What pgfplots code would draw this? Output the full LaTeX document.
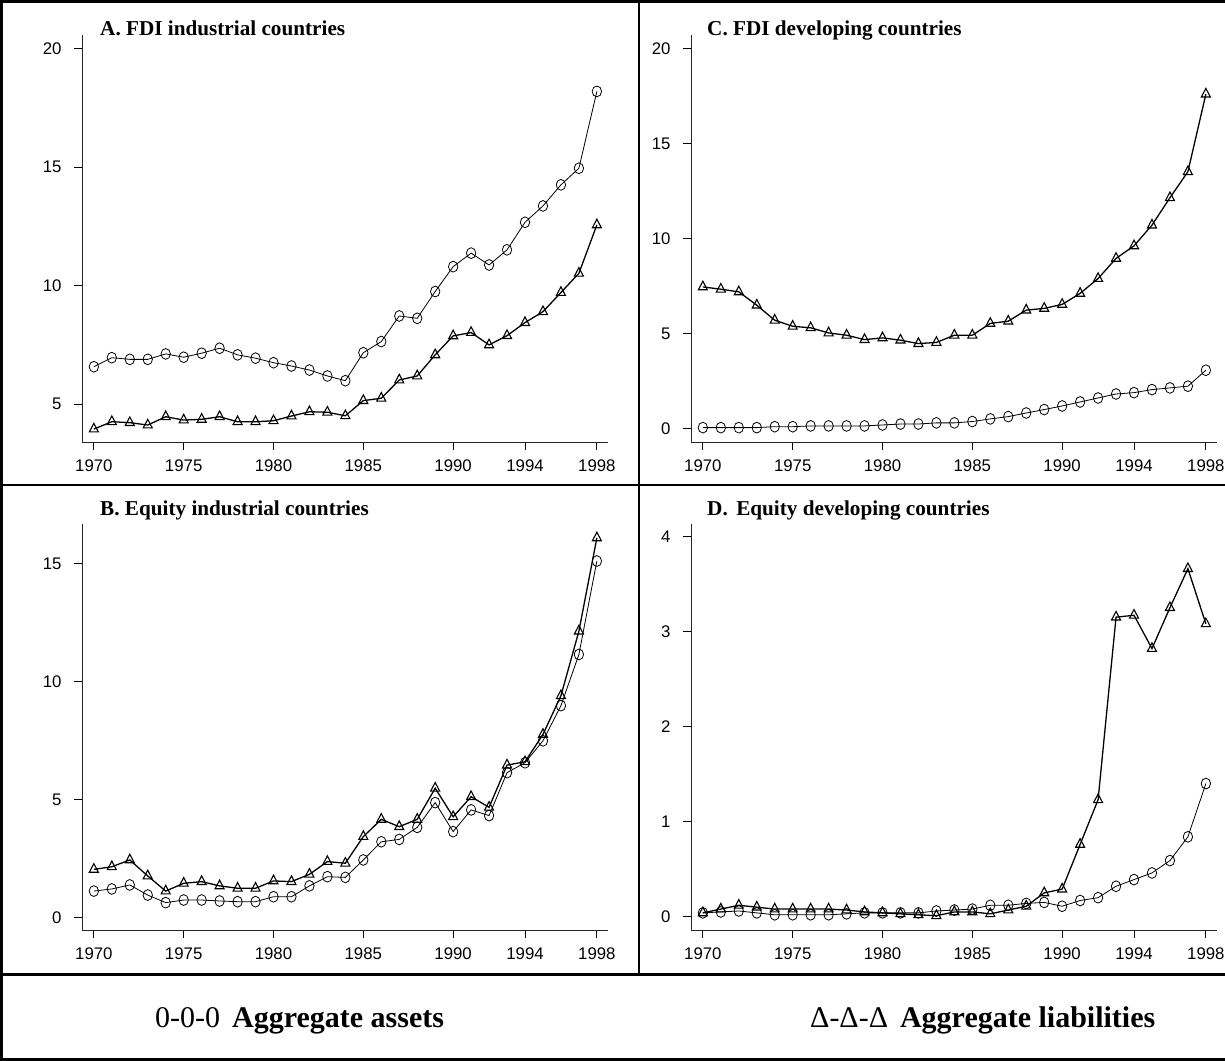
\documentclass[border=0pt]{standalone}
\usepackage{fontspec}
\setmainfont{Liberation Serif}
\newfontfamily\arial{Liberation Sans}
\usepackage{pgfplots}
\pgfplotsset{compat=1.18}
\usepackage{pgfplotstable}

% year, aggregate assets (a), aggregate liabilities (l)
\pgfplotstableread{
year a l
1970 6.58 3.95
1971 6.96 4.26
1972 6.89 4.22
1973 6.89 4.12
1974 7.12 4.47
1975 6.98 4.33
1976 7.15 4.36
1977 7.36 4.47
1978 7.08 4.26
1979 6.94 4.26
1980 6.75 4.30
1981 6.61 4.50
1982 6.44 4.68
1983 6.19 4.66
1984 5.99 4.51
1985 7.17 5.15
1986 7.64 5.25
1987 8.72 6.02
1988 8.62 6.19
1989 9.75 7.08
1990 10.80 7.88
1991 11.37 8.02
1992 10.87 7.50
1993 11.51 7.89
1994 12.67 8.44
1995 13.36 8.90
1996 14.25 9.71
1997 14.95 10.52
1998 18.19 12.56
}\fdiind

\pgfplotstableread{
year a l
1970 0.05 7.45
1971 0.05 7.33
1972 0.05 7.19
1973 0.05 6.49
1974 0.10 5.70
1975 0.10 5.38
1976 0.14 5.30
1977 0.14 5.03
1978 0.14 4.91
1979 0.14 4.68
1980 0.19 4.77
1981 0.24 4.65
1982 0.24 4.47
1983 0.30 4.53
1984 0.30 4.91
1985 0.37 4.91
1986 0.51 5.53
1987 0.63 5.65
1988 0.82 6.23
1989 1.00 6.32
1990 1.19 6.53
1991 1.40 7.11
1992 1.61 7.89
1993 1.82 8.95
1994 1.89 9.61
1995 2.05 10.70
1996 2.14 12.14
1997 2.23 13.51
1998 3.07 17.59
}\fdidev

\pgfplotstableread{
year a l
1970 1.11 2.03
1971 1.20 2.14
1972 1.37 2.43
1973 0.94 1.75
1974 0.62 1.11
1975 0.73 1.44
1976 0.73 1.51
1977 0.69 1.33
1978 0.66 1.23
1979 0.66 1.23
1980 0.87 1.54
1981 0.87 1.51
1982 1.33 1.82
1983 1.72 2.36
1984 1.69 2.29
1985 2.43 3.42
1986 3.20 4.15
1987 3.30 3.84
1988 3.81 4.15
1989 4.86 5.47
1990 3.63 4.26
1991 4.55 5.11
1992 4.31 4.66
1993 6.13 6.45
1994 6.55 6.59
1995 7.48 7.75
1996 8.97 9.39
1997 11.14 12.13
1998 15.10 16.08
}\eqind

\pgfplotstableread{
year a l
1970 0.04 0.04
1971 0.05 0.08
1972 0.06 0.12
1973 0.04 0.10
1974 0.02 0.08
1975 0.02 0.08
1976 0.02 0.08
1977 0.02 0.08
1978 0.03 0.07
1979 0.04 0.05
1980 0.04 0.04
1981 0.04 0.03
1982 0.04 0.02
1983 0.06 0.01
1984 0.07 0.05
1985 0.08 0.05
1986 0.12 0.03
1987 0.12 0.07
1988 0.14 0.11
1989 0.15 0.25
1990 0.11 0.29
1991 0.17 0.76
1992 0.20 1.23
1993 0.32 3.15
1994 0.39 3.17
1995 0.46 2.82
1996 0.59 3.25
1997 0.84 3.66
1998 1.40 3.08
}\eqdev

\pgfplotsset{
  panel/.style={
    scale only axis, width=526bp, anchor=south west,
    xmin=1969.34, xmax=1998.62,
    axis x line*=bottom, axis y line*=left,
    axis line style={line width=0.8bp, black!85},
    xtick={1970,1975,1980,1985,1990,1994,1998},
    xticklabels={1970,1975,1980,1985,1990,1994,1998},
    tick align=outside, major tick length=8bp,
    tick style={line width=0.8bp, black},
    tick label style={font=\arial\fontsize{16.8bp}{17bp}\selectfont},
    yticklabel style={xshift=-9bp},
    xticklabel style={yshift=-6bp},
    /pgf/number format/assume math mode=true,
    clip=false,
  },
  assets/.style={black, line width=0.8bp, mark=o, mark size=4.7bp,
    mark options={line width=0.8bp, solid, yscale=1.15}},
  liab/.style={black, line width=1.3bp, mark=triangle, mark size=5.2bp,
    mark options={line width=1.1bp, solid, yscale=1.1}},
}

\begin{document}
\begin{tikzpicture}
\useasboundingbox (0,0) rectangle (1225bp,1061bp);
% frame and dividers
\draw[line width=1.5bp] (639bp,86bp) -- (639bp,1061bp);
\draw[line width=2bp] (0bp,576bp) -- (1225bp,576bp);
\draw[line width=3bp] (0bp,86bp) -- (1225bp,86bp);
\draw[line width=3bp] (1225bp,1059.5bp) -- (1.5bp,1059.5bp) -- (1.5bp,1.5bp) -- (1225bp,1.5bp);

% Panel A
\begin{axis}[panel, at={(82bp,619bp)}, height=407bp,
  ymin=3.405, ymax=20.57, ytick={5,10,15,20}]
\addplot[assets] table[x=year,y=a] {\fdiind};
\addplot[liab] table[x=year,y=l] {\fdiind};
\end{axis}

% Panel C
\begin{axis}[panel, at={(691bp,619bp)}, height=407bp,
  ymin=-0.705, ymax=20.70, ytick={0,5,10,15,20}]
\addplot[assets] table[x=year,y=a] {\fdidev};
\addplot[liab] table[x=year,y=l] {\fdidev};
\end{axis}

% Panel B
\begin{axis}[panel, at={(82bp,131bp)}, height=406bp,
  ymin=-0.54, ymax=16.67, ytick={0,5,10,15}]
\addplot[assets] table[x=year,y=a] {\eqind};
\addplot[liab] table[x=year,y=l] {\eqind};
\end{axis}

% Panel D
\begin{axis}[panel, at={(691bp,131bp)}, height=406bp,
  ymin=-0.14, ymax=4.13, ytick={0,1,2,3,4}]
\addplot[assets] table[x=year,y=a] {\eqdev};
\addplot[liab] table[x=year,y=l] {\eqdev};
\end{axis}

% titles
\begin{scope}[every node/.style={anchor=base west, inner sep=0pt,
   font=\bfseries\fontsize{21.2bp}{24bp}\selectfont}]
\node at (100bp,1025bp) {A. FDI industrial countries};
\node at (707bp,1025bp) {C. FDI developing countries};
\node at (100bp,545bp) {B. Equity industrial countries};
\node at (707bp,545bp) {D.\hspace{0.4em}Equity developing countries};
\end{scope}

% legend
\node[anchor=base west, inner sep=0pt, font=\fontsize{30bp}{34bp}\selectfont]
  at (155bp,34bp) {0-0-0\hspace{0.4em}\textbf{Aggregate assets}};
\node[anchor=base west, inner sep=0pt, font=\fontsize{30bp}{34bp}\selectfont]
  at (810bp,34bp) {Δ-Δ-Δ\hspace{0.4em}\textbf{Aggregate liabilities}};
\end{tikzpicture}
\end{document}
